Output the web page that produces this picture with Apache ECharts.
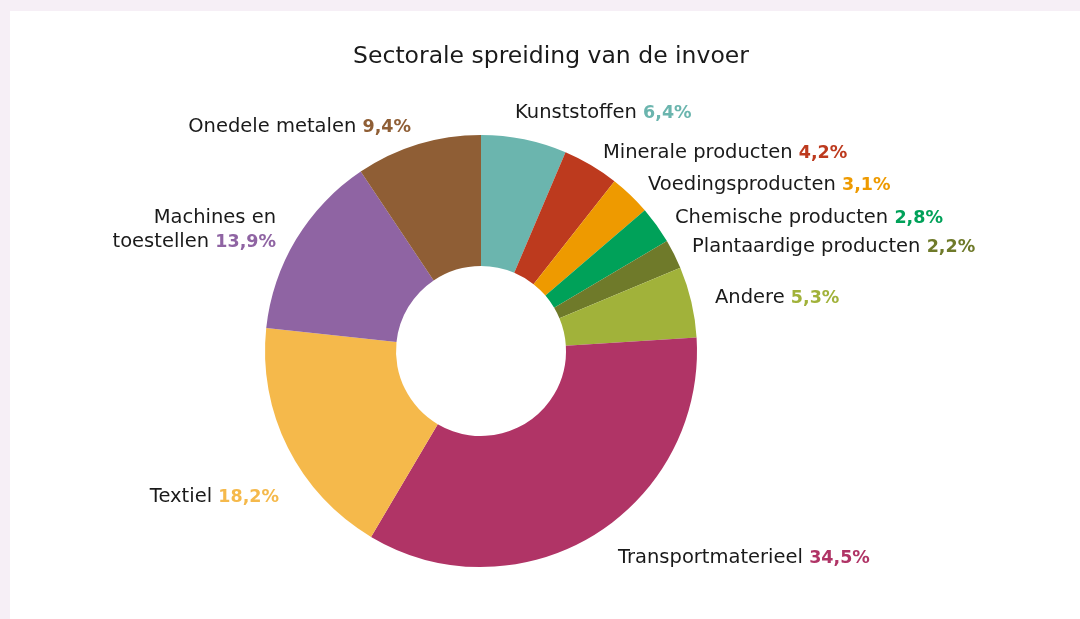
<!DOCTYPE html>
<html>
<head>
<meta charset="utf-8">
<script src="https://cdn.jsdelivr.net/npm/echarts@6/dist/echarts.min.js"></script>
<style>
  html, body { margin: 0; padding: 0; background: #f6eff6; }
  #main { width: 1080px; height: 619px; }
</style>
</head>
<body>
<div id="main"></div>
<script>
// sectors, clockwise from the top
const names = ['Kunststoffen', 'Minerale producten', 'Voedingsproducten', 'Chemische producten',
  'Plantaardige producten', 'Andere', 'Transportmaterieel', 'Textiel', 'Machines en\ntoestellen', 'Onedele metalen'];
const shares = [6.4, 4.2, 3.1, 2.8, 2.2, 5.3, 34.5, 18.2, 13.9, 9.4];
const colors = ['#6bb5ae', '#bd3a1e', '#ee9a00', '#00a159', '#6f7a2a', '#a1b23a', '#b03466', '#f5b94b', '#8f64a3', '#8f5e35'];

// where each label sits (anchor x, y, alignment)
const labelPos = [
  [515, 113, 'left'], [603, 153, 'left'], [648, 185, 'left'], [675, 218, 'left'],
  [692, 247, 'left'], [715, 298, 'left'], [618, 558, 'left'], [279, 497, 'right'],
  [276, 230, 'right'], [411, 127, 'right']
];

const chart = echarts.init(document.getElementById('main'));

const fontFam = '"DejaVu Sans", sans-serif';
const rich = { n: { color: '#1a1a1a', fontSize: 19.5, fontFamily: fontFam, lineHeight: 24 } };
colors.forEach(function (c, i) {
  rich['p' + i] = { color: c, fontSize: 17.5, fontWeight: 'bold', fontFamily: fontFam, lineHeight: 24 };
});

const option = {
  backgroundColor: '#f6eff6',
  animation: false,
  graphic: [{
    type: 'rect',
    shape: { x: 10, y: 11, width: 1080, height: 620 },
    style: { fill: '#ffffff' },
    z: -10
  }],
  title: {
    text: 'Sectorale spreiding van de invoer',
    left: 546,
    top: 40,
    textAlign: 'center',
    textStyle: { color: '#1a1a1a', fontSize: 23.5, fontWeight: 'normal', fontFamily: fontFam }
  },
  series: [{
    type: 'pie',
    center: [481, 351],
    radius: [85, 216],
    startAngle: 90,
    clockwise: true,
    avoidLabelOverlap: false,
    labelLine: { show: false },
    label: {
      show: true,
      position: 'outside',
      rich: rich,
      formatter: function (p) {
        const pct = p.data.value.toFixed(1).replace('.', ',') + '%';
        const lines = p.name.split('\n');
        const last = lines.pop();
        return lines.map(function (l) { return '{n|' + l + '}'; }).concat(['{n|' + last + ' }{p' + p.dataIndex + '|' + pct + '}']).join('\n');
      }
    },
    labelLayout: function (params) {
      const lp = labelPos[params.dataIndex];
      return { x: lp[0], y: lp[1], align: lp[2], verticalAlign: 'middle', hideOverlap: false };
    },
    emphasis: { disabled: true },
    data: names.map(function (n, i) {
      return { name: n, value: shares[i], itemStyle: { color: colors[i] } };
    })
  }]
};

chart.setOption(option);
</script>
</body>
</html>
